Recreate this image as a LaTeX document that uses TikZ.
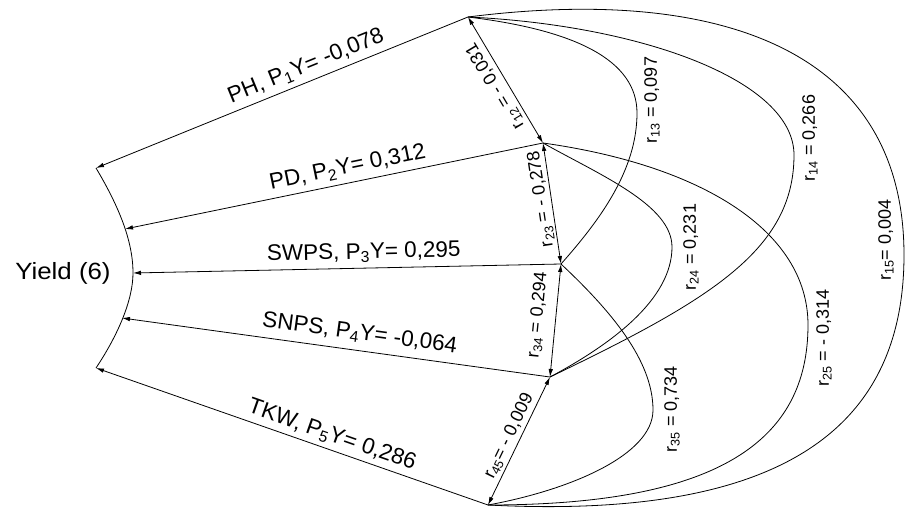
\documentclass[tikz,border=0pt]{standalone}
\usepackage{fontspec}
\setmainfont{Liberation Sans}
\usetikzlibrary{arrows.meta}
\tikzset{
  plabel/.style={font=\fontsize{22.5}{22.5}\selectfont, inner sep=1pt},
  rlabel/.style={font=\fontsize{18}{18}\selectfont, inner sep=1pt},
}
\begin{document}
\begin{tikzpicture}[x=1pt, y=-1pt, >={Latex[length=8pt,width=4.5pt]}, line width=0.8pt]
    \useasboundingbox (0,0) rectangle (906,514);
    % traits
    \coordinate (ph) at (468,17);
    \coordinate (pd) at (543,143);
    \coordinate (swps) at (561,264);
    \coordinate (snps) at (550,377);
    \coordinate (tkw) at (488,505);
    % yield
    \coordinate (y1) at (96,168);
    \coordinate (y2) at (125,229);
    \coordinate (y3) at (133,273);
    \coordinate (y4) at (122,318);
    \coordinate (y5) at (96,368);
    \draw (y1) .. controls (118,205) and (133,240) .. (y3) .. controls (133,300) and (118,335) .. (y5);
    \node[font=\fontsize{23.5}{23.5}\selectfont, xscale=1.1] (yield) at (63,273) {Yield (6)};
    % direct effects
    \draw[<-] (y1) -- (ph) node[plabel, pos=.58, sloped, above=4pt] (p1) {PH, P\textsubscript{1}Y= -0,078};
    \draw[<-] (y2) -- (pd) node[plabel, pos=.54, sloped, above=4pt] (p2) {PD, P\textsubscript{2}Y= 0,312};
    \draw[<-] (y3) -- (swps) node[plabel, pos=.54, sloped, above=4pt] (p3) {SWPS, P\textsubscript{3}Y= 0,295};
    \draw[<-] (y4) -- (snps) node[plabel, pos=.55, sloped, above=6pt] (p4) {SNPS, P\textsubscript{4}Y= -0,064};
    \draw[<-] (y5) -- (tkw) node[plabel, pos=.59, sloped, above=3pt] (p5) {TKW, P\textsubscript{5}Y= 0,286};
    % neighbour correlations
    \draw[<->] (pd) -- (ph) node[rlabel, midway, sloped, allow upside down, above=3pt] (r12) {r\textsubscript{12} = - 0,031};
    \draw[<->] (swps) -- (pd) node[rlabel, pos=.55, sloped, allow upside down, above=1pt] (r23) {r\textsubscript{23} = - 0,278};
    \draw[<->] (snps) -- (swps) node[rlabel, pos=.53, sloped, above=9pt] (r34) {r\textsubscript{34} = 0,294};
    \draw[<->] (tkw) -- (snps) node[rlabel, midway, sloped, above=2pt] (r45) {r\textsubscript{45}= - 0,009};
    % other correlations
    \draw (ph) .. controls (575,30) and (637,60) .. (637,113) .. controls (637,170) and (600,220) .. (swps);
    \draw (ph) .. controls (640,25) and (794,80) .. (794,155) .. controls (794,250) and (710,300) .. (snps);
    \draw (ph) .. controls (720,-15) and (904,50) .. (904,255) .. controls (904,430) and (780,520) .. (tkw);
    \draw (pd) .. controls (600,175) and (672,205) .. (672,247) .. controls (672,300) and (610,345) .. (snps);
    \draw (pd) .. controls (700,165) and (808,230) .. (808,325) .. controls (808,440) and (720,505) .. (tkw);
    \draw (swps) .. controls (610,310) and (653,360) .. (653,410) .. controls (653,455) and (570,490) .. (tkw);
    \node[rlabel, rotate=90] (r13) at (652,100) {r\textsubscript{13} = 0,097};
    \node[rlabel, rotate=90] (r14) at (810,138) {r\textsubscript{14} = 0,266};
    \node[rlabel, rotate=90] (r15) at (886,240) {r\textsubscript{15}= 0,004};
    \node[rlabel, rotate=90] (r24) at (691,247) {r\textsubscript{24} = 0,231};
    \node[rlabel, rotate=90] (r25) at (824,338) {r\textsubscript{25} = - 0,314};
    \node[rlabel, rotate=90] (r35) at (672,409) {r\textsubscript{35} = 0,734};
\end{tikzpicture}
\end{document}
